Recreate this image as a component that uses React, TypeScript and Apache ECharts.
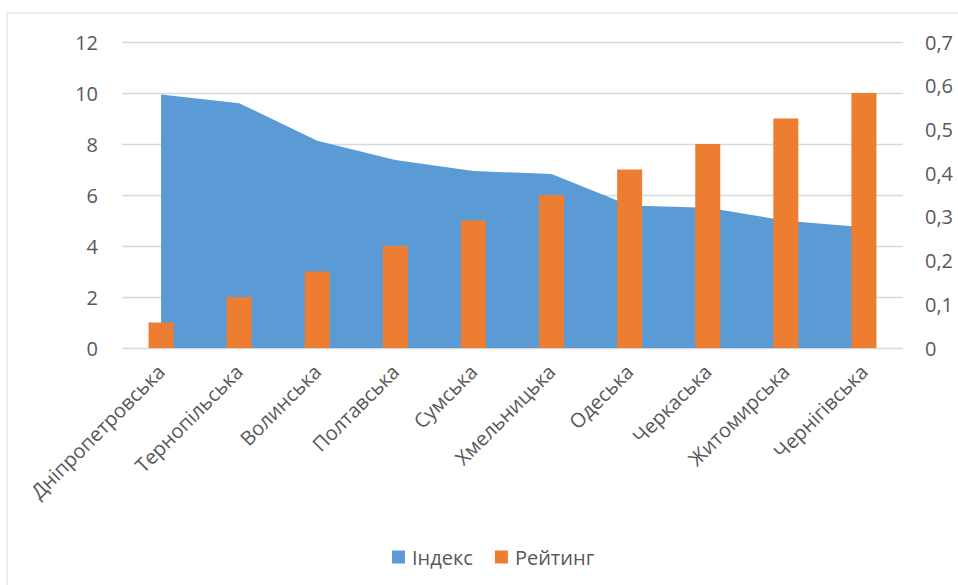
import React, { useEffect, useRef } from "react";
import * as echarts from "echarts";

const categories = [
  "Дніпропетровська",
  "Тернопільська",
  "Волинська",
  "Полтавська",
  "Сумська",
  "Хмельницька",
  "Одеська",
  "Черкаська",
  "Житомирська",
  "Чернігівська",
];
const indexValues = [0.58, 0.56, 0.474, 0.43, 0.405, 0.398, 0.326, 0.321, 0.291, 0.276];
const ratingValues = [1, 2, 3, 4, 5, 6, 7, 8, 9, 10];

const FONT = "'Open Sans', 'Noto Sans', sans-serif";
const TXT = "#595959";
const GRID = "#d9d9d9";
const FS = 20;

export default function App() {
  const ref = useRef<HTMLDivElement>(null);
  useEffect(() => {
    if (!ref.current) return;
    const chart = echarts.init(ref.current, null, { renderer: "svg" });
    chart.setOption({
      animation: false,
      backgroundColor: "#ffffff",
      textStyle: { fontFamily: FONT },
      graphic: [
        {
          type: "rect",
          shape: { x: 7, y: 13, width: 1100, height: 1100 },
          style: { fill: "none", stroke: GRID, lineWidth: 1 },
          silent: true,
          z: -10,
        },
      ],
      grid: { left: 122, right: 55, top: 42, bottom: 237 },
      legend: {
        top: 542,
        left: 387,
        itemWidth: 13,
        itemHeight: 13,
        itemGap: 22,
        icon: "rect",
        textStyle: { color: TXT, fontSize: FS, fontFamily: FONT, padding: [0, 0, 0, 2] },
        data: ["Індекс", "Рейтинг"],
      },
      xAxis: {
        type: "category",
        data: categories,
        boundaryGap: true,
        axisLine: { show: false },
        axisTick: { show: false },
        axisLabel: {
          rotate: 45,
          color: TXT,
          fontSize: FS,
          fontFamily: FONT,
          interval: 0,
          margin: 20,
        },
      },
      yAxis: [
        {
          type: "value",
          min: 0,
          max: 12,
          interval: 2,
          axisLine: { show: false },
          axisTick: { show: false },
          splitLine: { lineStyle: { color: GRID, width: 1.3 } },
          axisLabel: { color: TXT, fontSize: FS, fontFamily: FONT, margin: 24 },
        },
        {
          type: "value",
          min: 0,
          max: 0.7,
          interval: 0.1,
          axisLine: { show: false },
          axisTick: { show: false },
          splitLine: { show: false },
          axisLabel: {
            color: TXT,
            fontSize: FS,
            fontFamily: FONT,
            margin: 22,
            formatter: (v: number) => (v === 0 ? "0" : String(Math.round(v * 10) / 10).replace(".", ",")),
          },
        },
      ],
      series: [
        {
          name: "Індекс",
          type: "line",
          yAxisIndex: 1,
          data: indexValues,
          symbol: "none",
          lineStyle: { width: 0, color: "#5B9BD5" },
          itemStyle: { color: "#5B9BD5" },
          areaStyle: { color: "#5B9BD5", opacity: 1 },
          z: 1,
        },
        {
          name: "Рейтинг",
          type: "bar",
          yAxisIndex: 0,
          data: ratingValues,
          barWidth: 25,
          itemStyle: { color: "#ED7D31" },
          z: 2,
        },
      ],
    });
    return () => chart.dispose();
  }, []);
  return (
    <div
      ref={ref}
      style={{ position: "fixed", left: 0, top: 0, width: 958, height: 585 }}
    />
  );
}
